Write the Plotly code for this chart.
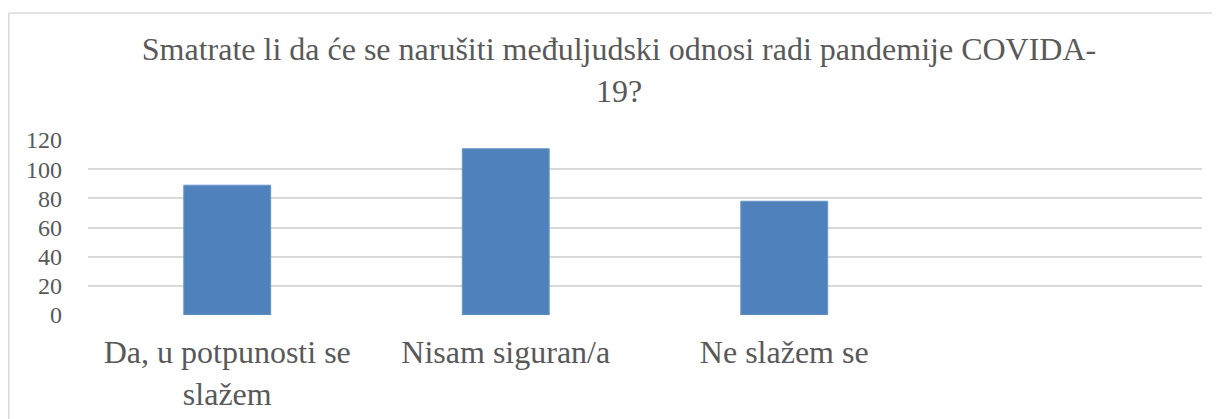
import plotly.graph_objects as go

categories = ["Da, u potpunosti se<br>slažem", "Nisam siguran/a", "Ne slažem se"]
values = [89, 114, 78]
y_ticks = [0, 20, 40, 60, 80, 100, 120]
title_text = "Smatrate li da će se narušiti međuljudski odnosi radi pandemije COVIDA-<br>19?"

# page body has an 8px default margin, so the figure is drawn 8px smaller
W, H = 1212, 411
ML, MR, MT, MB = 80, 18, 132, 104
pw = W - ML - MR
ph = H - MT - MB

font_family = "Liberation Serif, Times New Roman, serif"
text_color = "#595959"
grid_color = "#D9D9D9"

fig = go.Figure(
    go.Bar(
        x=categories,
        y=values,
        width=0.312,
        marker=dict(color="#4F81BD", line=dict(color="#6A95C9", width=1)),
        hoverinfo="x+y",
    )
)

bx0 = (0.75 - ML) / pw
bx1 = (W + 20 - ML) / pw
by0 = (H - MB - (H + 20)) / ph
by1 = (H - MB - 5) / ph

fig.update_layout(
    width=W,
    height=H,
    margin=dict(l=ML, r=MR, t=MT, b=MB, pad=0, autoexpand=False),
    paper_bgcolor="white",
    plot_bgcolor="white",
    showlegend=False,
    title=dict(
        text=title_text,
        x=611 / W,
        xanchor="center",
        xref="container",
        y=1 - 52 / H,
        yanchor="top",
        yref="container",
        font=dict(family=font_family, size=32, color=text_color),
        automargin=False,
    ),
    font=dict(family=font_family, color=text_color),
    shapes=[
        dict(type="line", xref="paper", yref="paper",
             x0=bx0, x1=bx1, y0=by1, y1=by1,
             line=dict(color=grid_color, width=1.5), layer="below"),
        dict(type="line", xref="paper", yref="paper",
             x0=bx0, x1=bx0, y0=by0, y1=by1,
             line=dict(color=grid_color, width=1.5), layer="below"),
    ],
)

fig.update_xaxes(
    type="category",
    categoryorder="array",
    categoryarray=categories,
    range=[-0.5, 3.5],
    showgrid=False,
    showline=False,
    zeroline=False,
    ticks="",
    tickfont=dict(family=font_family, size=32, color=text_color),
    ticklabelstandoff=15,
    automargin=False,
    fixedrange=True,
)

fig.update_yaxes(
    range=[0, 120],
    tickvals=y_ticks,
    ticktext=[str(v) for v in y_ticks],
    showgrid=True,
    gridcolor=grid_color,
    gridwidth=1.5,
    showline=False,
    zeroline=False,
    ticks="",
    tickfont=dict(family=font_family, size=24, color=text_color),
    ticklabelstandoff=25,
    automargin=False,
    fixedrange=True,
)

fig.write_html("out.html")
